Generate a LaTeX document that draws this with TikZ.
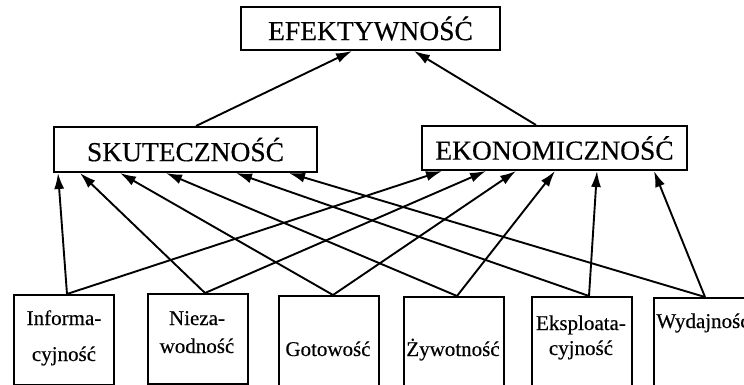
\documentclass[tikz,border=0pt]{standalone}
\usepackage{fontspec}
\setmainfont{Liberation Serif}
\newfontfamily\dgmfont{Liberation Serif}[FakeBold=0.35]
\usetikzlibrary{arrows.meta}
\begin{document}
\begin{tikzpicture}[x=1pt,y=-1pt,
  topbox/.style={draw, line width=2pt, inner sep=0pt, font=\dgmfont\fontsize{27.5}{30}\selectfont},
  lowbox/.style={draw, line width=2pt, inner sep=0pt, minimum width=100pt, minimum height=90pt, anchor=north west},
  lowtxt/.style={anchor=base, inner sep=0pt, font=\dgmfont\fontsize{21}{24}\selectfont},
  arr/.style={line width=1.9pt, -{Latex[length=16pt,width=10pt]}}]
\useasboundingbox (0,0) rectangle (744,385);
\clip (0,0) rectangle (744,385);
\fill[white] (0,0) rectangle (744,385);

% upper boxes
\node[topbox, minimum width=259pt, minimum height=43pt] (ef) at (370.5,28.5) {EFEKTYWNOŚĆ};
\node[topbox, minimum width=263pt, minimum height=45pt] (sk) at (185.5,149.5) {SKUTECZNOŚĆ};
\node[topbox, minimum width=265pt, minimum height=44pt] (ek) at (554.5,148) {EKONOMICZNOŚĆ};

% lower boxes
\node[lowbox] (b1) at (13,294) {};
\node[lowbox] (b2) at (147,293) {};
\node[lowbox] (b3) at (278,295) {};
\node[lowbox] (b4) at (403,296) {};
\node[lowbox] (b5) at (531,296) {};
\node[lowbox] (b6) at (653,297) {};

% lower texts
\node[lowtxt] (t1a) at (64,325) {Informa-};
\node[lowtxt] (t1b) at (64,361) {cyjność};
\node[lowtxt] (t2a) at (197,325) {Nieza-};
\node[lowtxt] (t2b) at (197,353) {wodność};
\node[lowtxt] (t3) at (328,356) {Gotowość};
\node[lowtxt] (t4) at (453,356) {Żywotność};
\node[lowtxt] (t5a) at (581,330) {Eksploata-};
\node[lowtxt] (t5b) at (581,355) {cyjność};
\node[lowtxt] (t6) at (703,328) {Wydajność};

% top level arrows
\draw[arr] ([xshift=143pt]sk.north west) -- ([xshift=112pt]ef.south west);
\draw[arr] ([xshift=115pt]ek.north west) -- ([xshift=174pt]ef.south west);

% arrows to SKUTECZNOŚĆ
\draw[arr] ([xshift=54pt]b1.north west) -- ([xshift=5pt]sk.south west);
\draw[arr] ([xshift=58pt]b2.north west) -- ([xshift=27pt]sk.south west);
\draw[arr] ([xshift=55pt]b3.north west) -- ([xshift=67pt]sk.south west);
\draw[arr] ([xshift=54pt]b4.north west) -- ([xshift=113pt]sk.south west);
\draw[arr] ([xshift=58pt]b5.north west) -- ([xshift=183pt]sk.south west);
\draw[arr] ([xshift=52pt]b6.north west) -- ([xshift=236pt]sk.south west);

% arrows to EKONOMICZNOŚĆ
\draw[arr] ([xshift=54pt]b1.north west) -- ([xshift=21pt]ek.south west);
\draw[arr] ([xshift=58pt]b2.north west) -- ([xshift=65pt]ek.south west);
\draw[arr] ([xshift=55pt]b3.north west) -- ([xshift=95pt]ek.south west);
\draw[arr] ([xshift=54pt]b4.north west) -- ([xshift=134pt]ek.south west);
\draw[arr] ([xshift=58pt]b5.north west) -- ([xshift=176pt]ek.south west);
\draw[arr] ([xshift=52pt]b6.north west) -- ([xshift=233pt]ek.south west);
\end{tikzpicture}
\end{document}
